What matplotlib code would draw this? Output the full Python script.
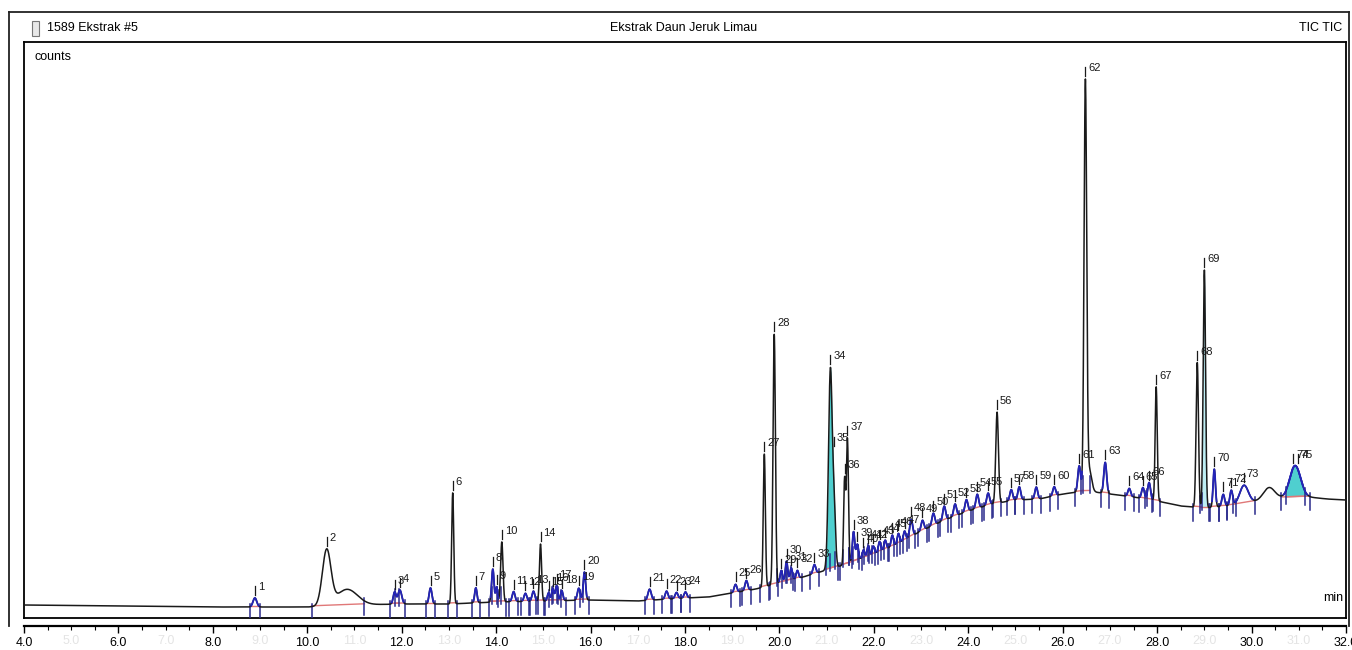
import numpy as np
import matplotlib
matplotlib.use("Agg")
import matplotlib.pyplot as plt
from matplotlib.patches import Rectangle
from matplotlib.lines import Line2D

plt.rcParams['font.family'] = ['Liberation Sans', 'DejaVu Sans']

# baseline drift of the TIC trace (min, counts)
base_t = [4.0, 6.0, 8.0, 9.5, 10.0, 11.0, 12.0, 13.0, 14.0, 15.0, 16.0, 17.0, 18.0,
          18.5, 19.0, 19.5, 20.0, 20.5, 21.0, 21.5, 22.0, 22.5, 23.0, 23.5, 24.0,
          24.5, 25.0, 25.5, 26.0, 26.5, 27.0, 27.5, 28.0, 28.5, 29.0, 29.5, 30.0,
          30.6, 31.2, 31.6, 32.0]
base_v = [13, 12, 11, 11, 11, 13, 14, 14, 16, 17, 18, 17, 20,
          21, 25, 29, 35, 41, 48, 55, 64, 74, 87, 98, 107,
          114, 118, 119, 124, 127, 124, 121, 117, 112, 110, 112, 116,
          120, 121, 119, 118]

# integrated peaks: number, retention time (min), height above baseline, sigma (min)
peak_no = list(range(1, 76))
peak_rt = [8.89, 10.41, 11.85, 11.96, 12.61, 13.08, 13.57, 13.93, 14.01, 14.12,
           14.37, 14.62, 14.79, 14.94, 15.11, 15.20, 15.28, 15.39, 15.75, 15.87,
           17.25, 17.61, 17.82, 18.01, 19.07, 19.30, 19.68, 19.89, 20.04, 20.15,
           20.25, 20.38, 20.74, 21.08, 21.16, 21.38, 21.44, 21.57, 21.65, 21.78,
           21.88, 21.99, 22.12, 22.24, 22.39, 22.52, 22.65, 22.79, 23.03, 23.26,
           23.49, 23.72, 23.96, 24.19, 24.42, 24.61, 24.91, 25.08, 25.44, 25.82,
           26.35, 26.48, 26.90, 27.41, 27.70, 27.83, 27.98, 28.85, 29.00, 29.21,
           29.40, 29.57, 29.84, 30.88, 30.98]
peak_h = [9, 55, 12, 14, 16, 111, 15, 33, 15, 60,
          10, 8, 10, 57, 8, 12, 15, 10, 12, 28,
          11, 8, 6, 6, 8, 10, 133, 250, 12, 20,
          12, 8, 9, 200, 50, 85, 125, 30, 16, 8,
          10, 8, 10, 9, 11, 10, 9, 17, 10, 12,
          14, 12, 12, 14, 12, 91, 11, 13, 12, 9,
          26, 406, 31, 8, 11, 17, 114, 145, 238, 38,
          12, 15, 18, 20, 16]
peak_w = [0.04, 0.09, 0.03, 0.04, 0.03, 0.022, 0.025, 0.025, 0.02, 0.025,
          0.03, 0.03, 0.03, 0.022, 0.025, 0.025, 0.025, 0.025, 0.03, 0.025,
          0.035, 0.03, 0.03, 0.03, 0.03, 0.03, 0.022, 0.025, 0.025, 0.025,
          0.025, 0.025, 0.03, 0.04, 0.03, 0.02, 0.022, 0.025, 0.025, 0.025,
          0.025, 0.025, 0.025, 0.025, 0.025, 0.025, 0.025, 0.03, 0.03, 0.03,
          0.03, 0.03, 0.03, 0.03, 0.03, 0.028, 0.03, 0.03, 0.03, 0.03,
          0.03, 0.028, 0.03, 0.03, 0.03, 0.03, 0.022, 0.025, 0.025, 0.025,
          0.03, 0.03, 0.09, 0.1, 0.1]

# tails / humps that are not numbered
extra_rt = [10.84, 26.56, 30.37]
extra_h = [16, 22, 12]
extra_w = [0.22, 0.05, 0.12]

filled_peaks = {34: '#4fcfcf', 69: '#bdeef4', 75: '#4fcfcf'}
odd_labels = [str(v) + '.0' for v in range(5, 32, 2)]

t = np.linspace(4, 32, 9000)
drift = np.interp(t, base_t, base_v).astype(float)
sig = drift.copy()
for rt, h, w in zip(peak_rt + extra_rt, peak_h + extra_h, peak_w + extra_w):
    sig += h * np.exp(-0.5 * ((t - rt) / w) ** 2)

W, H = 1352, 650
fig = plt.figure(figsize=(W / 100, H / 100), dpi=100)
ax = fig.add_axes([24 / W, (H - 618) / H, 1322 / W, 576 / H])
ax.set_xlim(4, 32)
ax.set_ylim(0, 576)
ax.set_xticks([])
ax.set_yticks([])
for s in ax.spines.values():
    s.set_linewidth(1.3)

def val(x):
    return np.interp(x, t, sig)

def base(x):
    return np.interp(x, base_t, base_v)

# integration baselines, fills and event markers
for no, rt, h, w in zip(peak_no, peak_rt, peak_h, peak_w):
    start = rt - max(2.5 * w, 0.09)
    end = rt + max(2.5 * w, 0.09)
    if no == 2:
        start = rt - 0.32
        end = rt + 0.8
    m = (t >= start) & (t <= end)
    line_b = np.interp(t[m], [start, end], [base(start) + 1, base(end) + 1])
    if no in filled_peaks:
        ax.fill_between(t[m], line_b, sig[m], color=filled_peaks[no], lw=0, zorder=1)
    ax.plot([start, end], [base(start) + 1, base(end) + 1], color='#e07878', lw=1.0, zorder=2)
    if h < 40:
        mm = (t >= rt - 2 * w) & (t <= rt + 2 * w)
        ax.plot(t[mm], sig[mm], color='#2424b8', lw=1.3, zorder=4)
    for x in (start, end):
        y0 = min(val(x), base(x) + 12)
        ax.plot([x, x], [y0 - 14, y0 + 3], color='#2a2a8c', lw=1.1, zorder=3)

ax.plot(t, sig, color='#1a1a1a', lw=1.1, zorder=3)

# peak numbers
for no, rt, w in zip(peak_no, peak_rt, peak_w):
    mm = (t >= rt - w) & (t <= rt + w)
    top = sig[mm].max()
    ax.plot([rt, rt], [top + 3, top + 12], color='#1a1a1a', lw=0.9, zorder=5)
    ax.text(rt + 0.06, top + 11, str(no), fontsize=8, color='#1a1a1a',
            ha='left', va='center', zorder=6)

ax.text(0.008, 0.974, 'counts', transform=ax.transAxes, fontsize=9, va='center')
ax.text(0.990, 0.035, 'min', transform=ax.transAxes, fontsize=9, ha='center', va='center')

# time axis below the box
sec = ax.secondary_xaxis(location=-8 / 576)
sec.spines['bottom'].set_linewidth(1.6)
sec.set_xticks(np.arange(4, 33, 2))
sec.set_xticklabels([f'{v:.1f}' for v in np.arange(4, 33, 2)])
sec.set_xticks(np.arange(4, 32.01, 0.5), minor=True)
sec.tick_params(which='major', direction='out', length=5, width=1.0, pad=3, labelsize=9)
sec.tick_params(which='minor', direction='out', length=3, width=0.8)
for v, lab in zip(range(5, 32, 2), odd_labels):
    ax.text(v, -23 / 576, lab, transform=ax.get_xaxis_transform(),
            fontsize=9, color='#e4e4e4', ha='center', va='center', clip_on=False)

# title row and outer frame
fig.text(47 / W, 1 - 28 / H, '1589 Ekstrak #5', fontsize=9, va='center', ha='left')
fig.text(684 / W, 1 - 28 / H, 'Ekstrak Daun Jeruk Limau', fontsize=9, va='center', ha='center')
fig.text(1342 / W, 1 - 28 / H, 'TIC TIC', fontsize=9, va='center', ha='right')
fig.patches.append(Rectangle((32 / W, 1 - 36 / H), 7 / W, 15 / H, transform=fig.transFigure,
                             facecolor='#e8e8e8', edgecolor='#777777', lw=0.8))
for xs, ys in [([9, 1349], [12, 12]), ([9, 9], [12, 626]), ([1349, 1349], [12, 626])]:
    fig.lines.append(Line2D([x / W for x in xs], [1 - y / H for y in ys],
                            transform=fig.transFigure, color='#222222', lw=1.3))

fig.savefig('out.png', dpi=100)
